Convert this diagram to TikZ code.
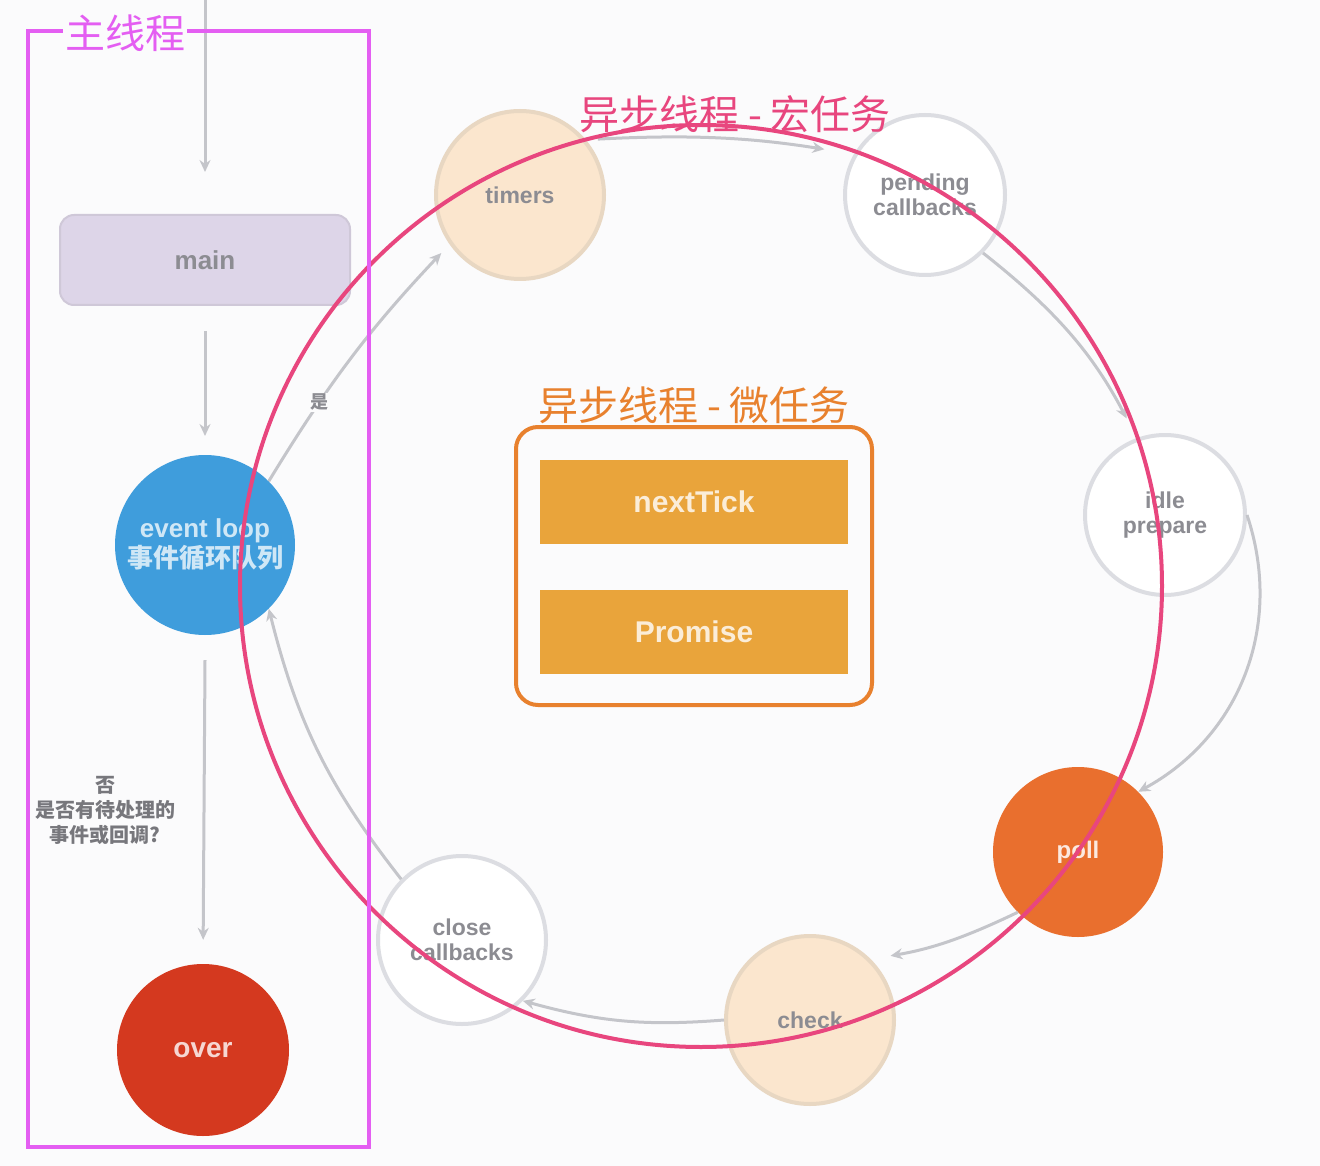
\documentclass[tikz,border=0pt]{standalone}
\usepackage{fontspec}
\setmainfont{Liberation Sans}
\newfontfamily\cjk{Noto Sans CJK SC}
\usetikzlibrary{arrows.meta}
\definecolor{bgc}{HTML}{FBFBFC}
\definecolor{lav}{HTML}{DDD5E8}
\definecolor{loopblue}{HTML}{3F9DDC}
\definecolor{overred}{HTML}{D4391F}
\definecolor{peach}{HTML}{FBE6CE}
\definecolor{pollorange}{HTML}{E96F2E}
\definecolor{magline}{HTML}{E45EF2}
\definecolor{pinkline}{HTML}{E8467E}
\definecolor{orangeline}{HTML}{E8812E}
\definecolor{taskfill}{HTML}{E9A43B}
\definecolor{phaseedge}{HTML}{DCDDE2}
\definecolor{flowgray}{HTML}{C4C5CA}
\definecolor{txtgray}{HTML}{8C8C92}
\begin{document}
\begin{tikzpicture}[x=1pt,y=-1pt,
  flow/.style={draw=flowgray, line width=3pt, -{Stealth[length=12pt,width=11pt]}},
  phase/.style={circle, minimum size=168pt, draw=phaseedge, line width=4pt, fill=white,
    font=\bfseries\fontsize{23}{25}\selectfont, text=txtgray, align=center},
  warm/.style={phase, fill=peach, draw=peach!85!gray},
  hot/.style={circle, minimum size=170pt, fill=pollorange, text=white!85!pollorange,
    font=\bfseries\fontsize{24}{26}\selectfont},
  task/.style={rectangle, minimum width=308pt, minimum height=84pt, fill=taskfill,
    text=white!80!taskfill, font=\bfseries\fontsize{30}{32}\selectfont},
  biglabel/.style={font=\cjk\fontsize{40}{42}\selectfont, inner sep=2pt}
]
\useasboundingbox (0,0) rectangle (1320,1166);
\fill[bgc] (0,0) rectangle (1320,1166);

% ---------- main thread column ----------
\coordinate (start) at (205,0);
\node[rounded corners=14pt, fill=lav, draw=lav!85!gray, line width=2pt,
      minimum width=290pt, minimum height=90pt, text=txtgray,
      font=\bfseries\fontsize{26}{28}\selectfont] (main) at (205,260) {main};
\node[circle, minimum size=180pt, fill=loopblue, text=white!75!loopblue, align=center,
      font=\bfseries\fontsize{26}{30}\selectfont] (loop) at (205,545)
      {event loop\\{\cjk 事件循环队列}};
\node[circle, minimum size=172pt, fill=overred, text=white!80!overred,
      font=\bfseries\fontsize{28}{30}\selectfont] (over) at (203,1050) {over};

\draw[flow] (start) -- (205,172);
\draw[flow] (main.south) ++(0,25) -- ++(0,105);
\draw[flow, shorten >=24pt] (loop.south) ++(0,25) -- (over.north);
\node[font=\bfseries\cjk\fontsize{20}{25}\selectfont, text=txtgray!85!black, align=center] (nolabel) at (105,810)
  {否\\是否有待处理的\\事件或回调?};

% ---------- phases ----------
\node[warm] (timers) at (520,195) {timers};
\node[phase, minimum size=160pt] (pending) at (925,195) {pending\\callbacks};
\node[phase, minimum size=160pt] (idle) at (1165,515) {idle\\prepare};
\node[hot] (poll) at (1078,852) {poll};
\node[warm] (check) at (810,1020) {check};
\node[phase] (close) at (462,940) {close\\callbacks};

\draw[flow, shorten <=12pt, shorten >=30pt] (timers.40) to[bend left=6] (pending.150);
\draw[flow, shorten >=22pt] (pending.south east) to[bend left=12] (idle.110);
\draw[flow] (idle.east) to[bend left=40] (poll.north east);
\draw[flow, shorten >=20pt] (poll.south west) to[bend left=8] (check.north east);
\draw[flow] (check.west) to[bend left=10] (close.south east);
\draw[flow] (close.north west) to[bend left=12] (loop.south east);
\draw[flow, shorten >=12pt] (loop.north east) to[bend left=6] node[pos=0.3, fill=bgc, inner sep=1pt, text=txtgray,
   font=\bfseries\cjk\fontsize{18}{20}\selectfont] (yes) {是} (timers.215);

% ---------- macro task ring ----------
\draw[pinkline, line width=4pt] (701,586) circle[radius=461];
\node[biglabel, text=pinkline] (macro) at (735,114) {异步线程 - 宏任务};

% ---------- main thread frame ----------
\draw[magline, line width=4.5pt] (28,31) rectangle (369,1147);
\node[biglabel, text=magline, fill=bgc] (mainthread) at (125,33) {主线程};

% ---------- micro task box ----------
\draw[orangeline, line width=4pt, rounded corners=22pt] (516,427) rectangle (872,705);
\node[task] (tick) at (694,502) {nextTick};
\node[task] (promise) at (694,632) {Promise};
\node[biglabel, text=orangeline] (micro) at (694,405) {异步线程 - 微任务};
\end{tikzpicture}
\end{document}
